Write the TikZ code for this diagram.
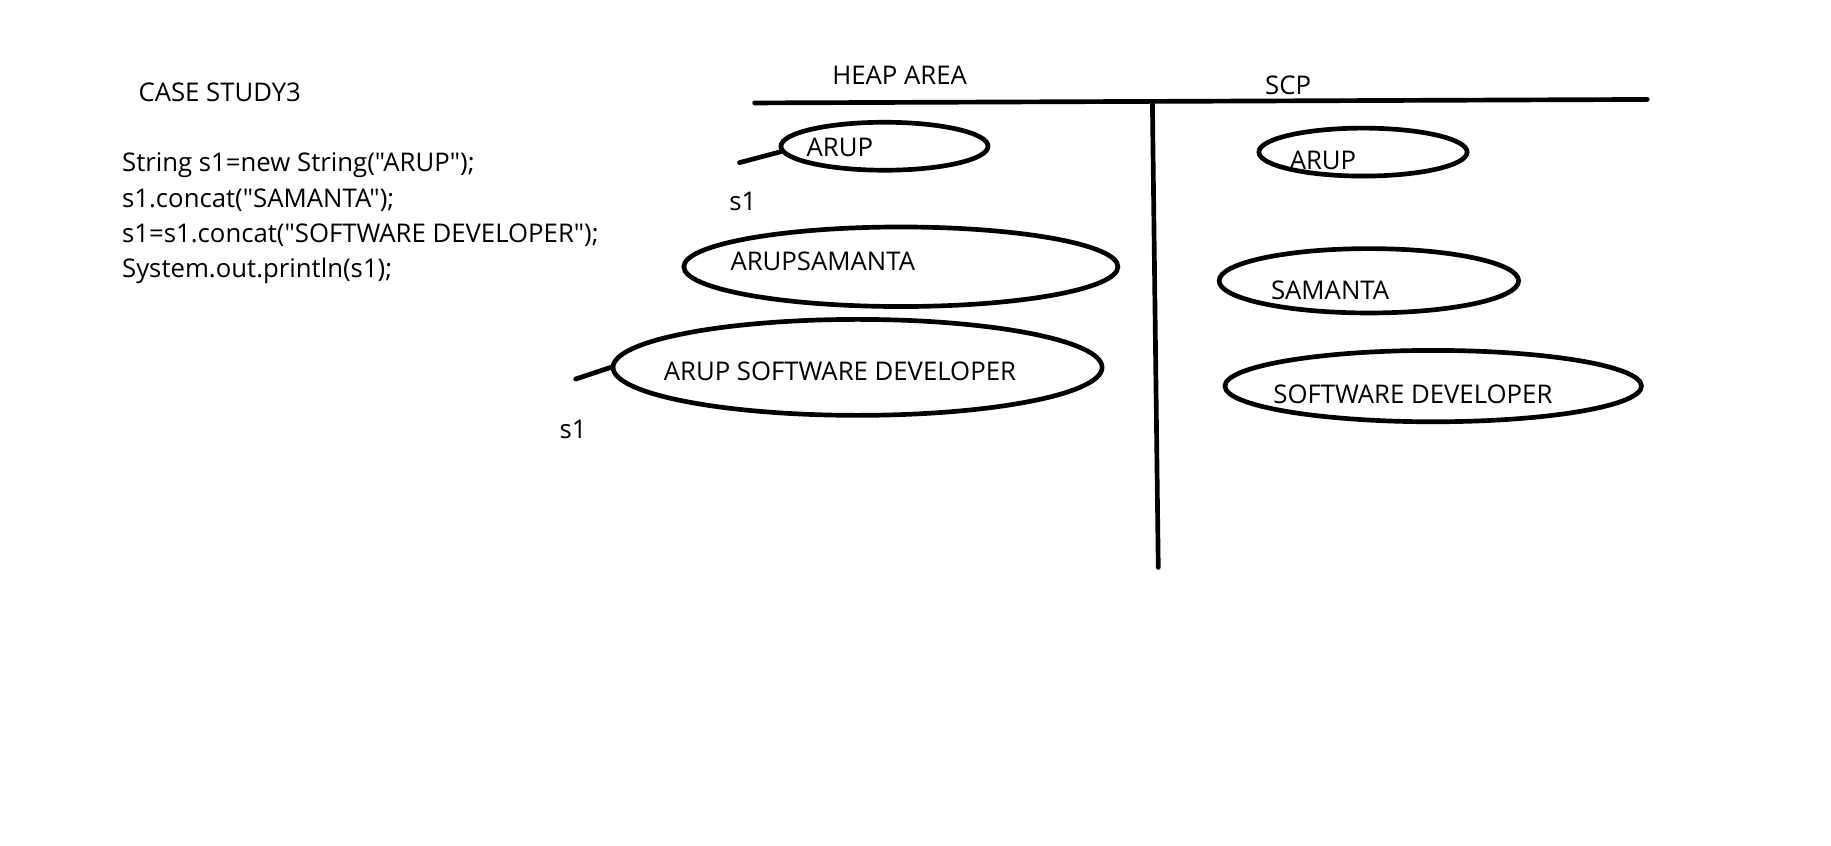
\documentclass[tikz,border=0pt]{standalone}
\usepackage{fontspec}
\setmainfont{Open Sans}[Ligatures=TeXOff]
\usetikzlibrary{positioning}
\usetikzlibrary{shapes.geometric}
\tikzset{
    % Thick marker strokes, as in the sketch
    pen/.style={line width=2pt, line cap=round},
%
    % A string object sitting in one of the memory areas
    string object/.style={
        draw, ellipse, line width=2pt, inner sep=0},
%
    % Plain handwriting-like text, placed by its baseline
    sketch text/.style={
        font=\fontsize{11}{15}\selectfont, inner sep=0, anchor=base west}}

\begin{document}
\begin{tikzpicture}[x=0.5pt, y=-0.5pt]

\useasboundingbox (0,0) rectangle (1565,723);

% The case study source code

\node [sketch text] (title) at (118,87) {CASE STUDY3};
\node [sketch text] (code one) at (104,147) {String s1=new String("ARUP");};
\node [sketch text] (code two) at (104,177) {s1.concat("SAMANTA");};
\node [sketch text] (code three) at (104,207) {s1=s1.concat("SOFTWARE DEVELOPER");};
\node [sketch text] (code four) at (104,237) {System.out.println(s1);};

% Memory areas

\node [sketch text] (heap title) at (711,72) {HEAP AREA};
\node [sketch text] (scp title) at (1081,81) {SCP};
\draw [pen] (645,88) coordinate (area left) -- (1408,85) coordinate (area right);
\draw [pen] (985,89) coordinate (split top) -- (990,485) coordinate (split bottom);

% Heap objects

\node [string object, minimum width=88.5pt, minimum height=20.5pt]
    (heap arup) at (756,125) {};
\node [sketch text] (heap arup text) at (689,134) {ARUP};

\node [string object, minimum width=185.5pt, minimum height=34pt]
    (heap arupsamanta) at (770,228) {};
\node [sketch text] (heap arupsamanta text) at (624,231) {ARUPSAMANTA};

\node [string object, minimum width=209pt, minimum height=41pt]
    (heap arupsd) at (733,314) {};
\node [sketch text] (heap arupsd text) at (567,325) {ARUP SOFTWARE DEVELOPER};

% String constant pool objects

\node [string object, minimum width=89pt, minimum height=20.5pt]
    (scp arup) at (1165,130) {};
\node [sketch text] (scp arup text) at (1102,145) {ARUP};

\node [string object, minimum width=128pt, minimum height=27.5pt]
    (scp samanta) at (1170,240) {};
\node [sketch text] (scp samanta text) at (1086,256) {SAMANTA};

\node [string object, minimum width=178pt, minimum height=30.5pt]
    (scp sd) at (1225,330) {};
\node [sketch text] (scp sd text) at (1088,345) {SOFTWARE DEVELOPER};

% References

\coordinate (s1 old ref) at (632,139);
\node [sketch text] (s1 old) at (623,180) {s1};
\draw [pen] (s1 old ref) -- (heap arup.183);

\coordinate (s1 new ref) at (492,324);
\node [sketch text] (s1 new) at (478,375) {s1};
\draw [pen] (s1 new ref) -- (heap arupsd.west);

\end{tikzpicture}
\end{document}
